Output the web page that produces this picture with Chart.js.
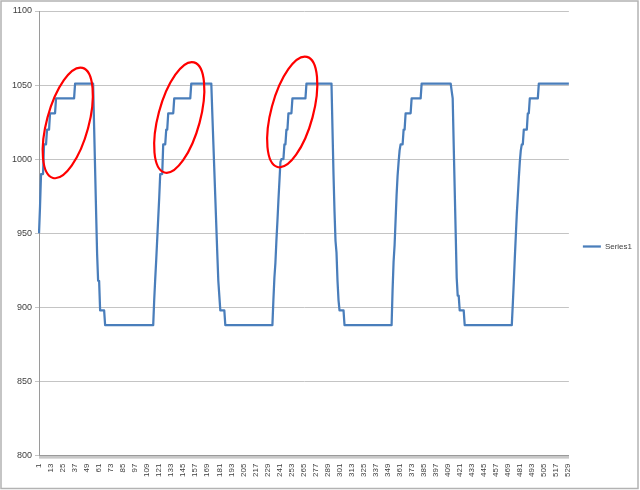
<!DOCTYPE html>
<html lang="en">
<head>
<meta charset="UTF-8">
<title>Series1</title>
<script src="https://cdn.jsdelivr.net/npm/chart.js@4.4.1/dist/chart.umd.min.js"></script>
<style>
    html, body { margin: 0; padding: 0; background: #fff; }
    #wrap { width: 640px; height: 490px; }
</style>
</head>
<body>
<div id="wrap"><canvas id="chart" width="640" height="490"></canvas></div>
<script>
// values, one per category (1..530)
const series1 = [
    950, 968, 990, 990, 990, 1010, 1010, 1010, 1020, 1020,
    1020, 1031, 1031, 1031, 1031, 1031, 1031, 1041, 1041, 1041,
    1041, 1041, 1041, 1041, 1041, 1041, 1041, 1041, 1041, 1041,
    1041, 1041, 1041, 1041, 1041, 1041, 1051, 1051, 1051, 1051,
    1051, 1051, 1051, 1051, 1051, 1051, 1051, 1051, 1051, 1051,
    1051, 1051, 1051, 1051, 1051, 1022, 993, 964, 936, 918,
    918, 898, 898, 898, 898, 898, 888, 888, 888, 888,
    888, 888, 888, 888, 888, 888, 888, 888, 888, 888,
    888, 888, 888, 888, 888, 888, 888, 888, 888, 888,
    888, 888, 888, 888, 888, 888, 888, 888, 888, 888,
    888, 888, 888, 888, 888, 888, 888, 888, 888, 888,
    888, 888, 888, 888, 888, 905, 919, 932, 946, 960,
    974, 990, 990, 990, 1010, 1010, 1010, 1020, 1020, 1031,
    1031, 1031, 1031, 1031, 1031, 1041, 1041, 1041, 1041, 1041,
    1041, 1041, 1041, 1041, 1041, 1041, 1041, 1041, 1041, 1041,
    1041, 1041, 1051, 1051, 1051, 1051, 1051, 1051, 1051, 1051,
    1051, 1051, 1051, 1051, 1051, 1051, 1051, 1051, 1051, 1051,
    1051, 1051, 1051, 1031, 1012, 993, 974, 955, 936, 918,
    908, 898, 898, 898, 898, 898, 888, 888, 888, 888,
    888, 888, 888, 888, 888, 888, 888, 888, 888, 888,
    888, 888, 888, 888, 888, 888, 888, 888, 888, 888,
    888, 888, 888, 888, 888, 888, 888, 888, 888, 888,
    888, 888, 888, 888, 888, 888, 888, 888, 888, 888,
    888, 888, 888, 888, 905, 920, 930, 945, 958, 972,
    985, 998, 1000, 1000, 1000, 1010, 1010, 1020, 1020, 1031,
    1031, 1031, 1031, 1041, 1041, 1041, 1041, 1041, 1041, 1041,
    1041, 1041, 1041, 1041, 1041, 1041, 1041, 1051, 1051, 1051,
    1051, 1051, 1051, 1051, 1051, 1051, 1051, 1051, 1051, 1051,
    1051, 1051, 1051, 1051, 1051, 1051, 1051, 1051, 1051, 1051,
    1051, 1051, 1051, 1020, 990, 965, 945, 937, 918, 905,
    898, 898, 898, 898, 898, 888, 888, 888, 888, 888,
    888, 888, 888, 888, 888, 888, 888, 888, 888, 888,
    888, 888, 888, 888, 888, 888, 888, 888, 888, 888,
    888, 888, 888, 888, 888, 888, 888, 888, 888, 888,
    888, 888, 888, 888, 888, 888, 888, 888, 888, 888,
    888, 888, 888, 912, 931, 942, 959, 976, 989, 998,
    1006, 1010, 1010, 1010, 1020, 1020, 1031, 1031, 1031, 1031,
    1031, 1031, 1041, 1041, 1041, 1041, 1041, 1041, 1041, 1041,
    1041, 1041, 1051, 1051, 1051, 1051, 1051, 1051, 1051, 1051,
    1051, 1051, 1051, 1051, 1051, 1051, 1051, 1051, 1051, 1051,
    1051, 1051, 1051, 1051, 1051, 1051, 1051, 1051, 1051, 1051,
    1051, 1051, 1046, 1041, 1010, 980, 950, 920, 908, 908,
    898, 898, 898, 898, 898, 888, 888, 888, 888, 888,
    888, 888, 888, 888, 888, 888, 888, 888, 888, 888,
    888, 888, 888, 888, 888, 888, 888, 888, 888, 888,
    888, 888, 888, 888, 888, 888, 888, 888, 888, 888,
    888, 888, 888, 888, 888, 888, 888, 888, 888, 888,
    888, 888, 888, 902, 917, 933, 948, 963, 975, 987,
    998, 1006, 1010, 1010, 1020, 1020, 1020, 1020, 1031, 1031,
    1041, 1041, 1041, 1041, 1041, 1041, 1041, 1041, 1041, 1051,
    1051, 1051, 1051, 1051, 1051, 1051, 1051, 1051, 1051, 1051,
    1051, 1051, 1051, 1051, 1051, 1051, 1051, 1051, 1051, 1051,
    1051, 1051, 1051, 1051, 1051, 1051, 1051, 1051, 1051, 1051
];

// category names are just the sample numbers
const categories = series1.map((v, i) => String(i + 1));
const labelEvery = 12;

const yMin = 800;
const yMax = 1100;
const yStep = 50;

// red hand-drawn circles: centre given as [category index, value]
const circleCentres = [[28.7, 1024.5], [140.0, 1028.2], [252.8, 1031.9]];
const circleRadius = { rx: 21, ry: 57, tilt: 15 };

const circlesPlugin = {
    id: 'circles',
    afterDatasetsDraw(chart) {
        const { ctx, scales } = chart;
        ctx.save();
        ctx.strokeStyle = '#ff0000';
        ctx.lineWidth = 2.2;
        circleCentres.forEach(([idx, val]) => {
            const cx = scales.x.getPixelForValue(idx);
            const cy = scales.y.getPixelForValue(val);
            ctx.beginPath();
            ctx.ellipse(cx, cy, circleRadius.rx, circleRadius.ry, circleRadius.tilt * Math.PI / 180, 0, Math.PI * 2);
            ctx.stroke();
        });
        ctx.restore();
    }
};

// grey frame round the whole chart, like the spreadsheet chart area
const framePlugin = {
    id: 'frame',
    beforeDraw(chart) {
        const ctx = chart.ctx;
        ctx.save();
        ctx.fillStyle = '#ffffff';
        ctx.fillRect(0, 0, chart.width, chart.height);
        ctx.strokeStyle = '#b3b3b3';
        ctx.lineWidth = 1.5;
        ctx.strokeRect(1, 1, 637, 487.5);
        ctx.restore();
    }
};

// nudge the legend a little away from the plot
const legendShift = {
    id: 'legendShift',
    afterLayout(chart) {
        if (chart.legend) {
            chart.legend.left += 8;
            chart.legend.right += 8;
        }
    }
};

const ctx = document.getElementById('chart').getContext('2d');
new Chart(ctx, {
    type: 'line',
    data: {
        labels: categories,
        datasets: [{
            label: 'Series1',
            data: series1,
            borderColor: '#4a7ebb',
            backgroundColor: '#4a7ebb',
            borderWidth: 2.25,
            borderDash: [10000, 0],
            borderJoinStyle: 'round',
            pointRadius: 0,
            tension: 0,
            fill: false
        }]
    },
    options: {
        responsive: false,
        animation: false,
        events: [],
        layout: { padding: { left: 9, right: 6, top: 11, bottom: 8 } },
        plugins: {
            tooltip: { enabled: false },
            legend: {
                position: 'right',
                labels: {
                    usePointStyle: true,
                    pointStyle: 'line',
                    pointStyleWidth: 18,
                    padding: 6,
                    color: '#404040',
                    font: { family: 'Liberation Sans', size: 8 }
                }
            }
        },
        scales: {
            x: {
                offset: false,
                grid: { display: true, drawOnChartArea: false, drawTicks: true, tickLength: 3, color: '#c8c8c8' },
                border: { display: true, color: '#9a9a9a' },
                ticks: {
                    autoSkip: false,
                    minRotation: 90,
                    maxRotation: 90,
                    padding: 5,
                    color: '#404040',
                    font: { family: 'Liberation Sans', size: 8 },
                    callback(value, index) {
                        return index % labelEvery === 0 ? this.getLabelForValue(value) : '';
                    }
                }
            },
            y: {
                min: yMin,
                max: yMax,
                grid: { color: '#c4c4c4', tickLength: 4 },
                border: { display: true, color: '#9a9a9a' },
                ticks: {
                    stepSize: yStep,
                    padding: 3,
                    color: '#404040',
                    font: { family: 'Liberation Sans', size: 9 },
                    callback: (value) => String(value)
                }
            }
        }
    },
    plugins: [framePlugin, legendShift, circlesPlugin]
});
</script>
</body>
</html>
